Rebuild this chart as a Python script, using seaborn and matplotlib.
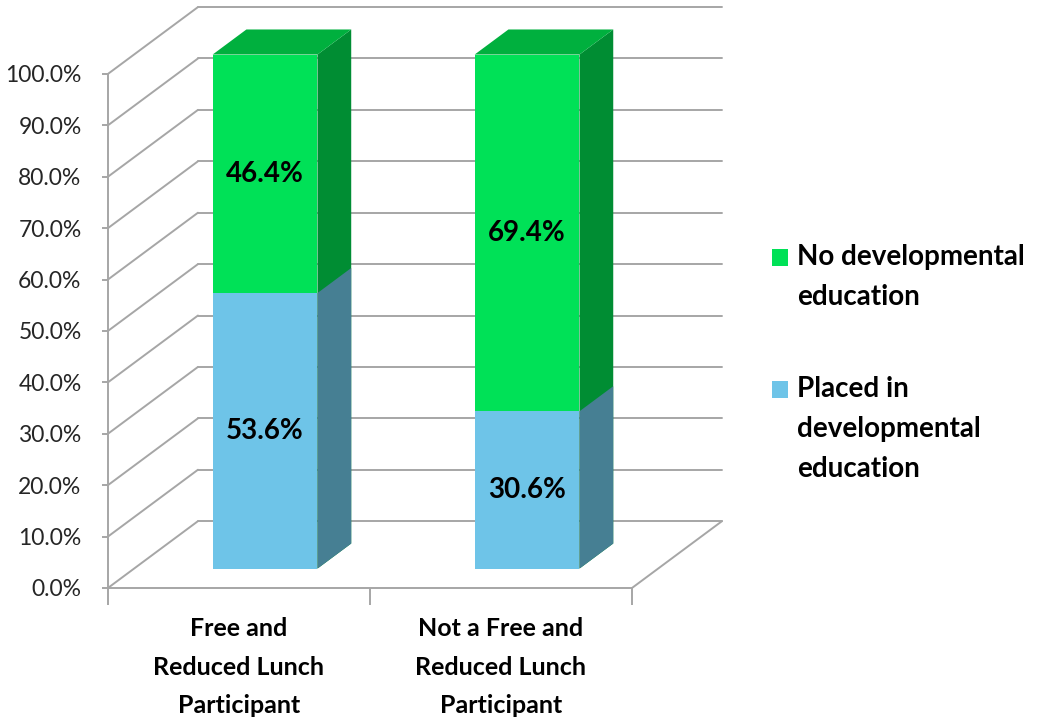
import numpy as np
import pandas as pd
import seaborn as sns
import matplotlib.pyplot as plt
from matplotlib.patches import Polygon, Patch, Rectangle
from matplotlib.legend_handler import HandlerPatch
from matplotlib.ticker import FuncFormatter

categories = ["Free and\nReduced Lunch\nParticipant",
              "Not a Free and\nReduced Lunch\nParticipant"]
placed = [53.6, 30.6]
no_dev = [46.4, 69.4]
series_names = ["No developmental\neducation",
                "Placed in\ndevelopmental\neducation"]
y_ticks = list(range(0, 101, 10))

green_front = "#00E157"
green_top = "#00B03E"
green_side = "#008D33"
blue_front = "#6EC4E8"
blue_side = "#467F93"
grid_col = "#A6A6A6"

# fake 3d: depth of the whole box in data units, and where the bars sit in it
DDX = 0.3435
DDY = 13.0
BAR_FRONT = 0.29
BAR_DEPTH = 0.375

LEG_SIZE = 20
LEG_SPACING = 1.65

sns.set_style("white")
plt.rcParams["font.family"] = ["Lato", "DejaVu Sans"]

df = pd.DataFrame({"category": categories,
                   "placed": placed,
                   "total": np.add(placed, no_dev)})

fig = plt.figure(figsize=(10.41, 7.21), dpi=100)
ax = fig.add_axes([0.1037, 0.1845, 0.5915, 0.8128])

sns.barplot(data=df, x="category", y="total", color=green_front, saturation=1,
            width=0.4, linewidth=0, errorbar=None, ax=ax)
n = len(ax.patches)
sns.barplot(data=df, x="category", y="placed", color=blue_front, saturation=1,
            width=0.4, linewidth=0, errorbar=None, ax=ax)
green_bars = ax.patches[:n]
blue_bars = ax.patches[n:]

for p in ax.patches:
    p.set_x(p.get_x() + BAR_FRONT * DDX)
    p.set_y(p.get_y() + BAR_FRONT * DDY)

dx, dy = BAR_DEPTH * DDX, BAR_DEPTH * DDY


def side_face(p, col, z):
    x = p.get_x() + p.get_width()
    y0 = p.get_y()
    y1 = y0 + p.get_height()
    ax.add_patch(Polygon([(x, y0), (x + dx, y0 + dy), (x + dx, y1 + dy), (x, y1)],
                         closed=True, fc=col, lw=0, zorder=z))


def top_face(p, col, z):
    x0 = p.get_x()
    x1 = x0 + p.get_width()
    y = p.get_y() + p.get_height()
    ax.add_patch(Polygon([(x0, y), (x0 + dx, y + dy), (x1 + dx, y + dy), (x1, y)],
                         closed=True, fc=col, lw=0, zorder=z))


for g, b, pv, nv in zip(green_bars, blue_bars, placed, no_dev):
    g.set_zorder(3)
    b.set_zorder(4)
    side_face(g, green_side, 3)
    top_face(g, green_top, 3)
    side_face(b, blue_side, 4)
    cx = g.get_x() + g.get_width() / 2
    base = g.get_y()
    ax.text(cx, base + pv / 2, f"{pv:.1f}%", ha="center", va="center",
            fontsize=20, fontweight="bold", color="black", zorder=6)
    ax.text(cx, base + pv + nv / 2, f"{nv:.1f}%", ha="center", va="center",
            fontsize=20, fontweight="bold", color="black", zorder=6)

# walls and floor
x_left, x_right = -0.5, len(categories) - 0.5
for v in y_ticks:
    ax.plot([x_left, x_left + DDX], [v, v + DDY], color=grid_col, lw=1.4,
            zorder=1, clip_on=False)
    ax.plot([x_left + DDX, x_right + DDX], [v + DDY, v + DDY], color=grid_col,
            lw=1.4, zorder=1, clip_on=False)
ax.plot([x_right, x_right + DDX], [0, DDY], color=grid_col, lw=1.4, zorder=1,
        clip_on=False)

ax.set_xlim(-0.5, 1.85)
ax.set_ylim(0, 114)
ax.set_xlabel("")
ax.set_ylabel("")

for s in ["top", "right"]:
    ax.spines[s].set_visible(False)
for s in ["left", "bottom"]:
    ax.spines[s].set_color(grid_col)
    ax.spines[s].set_linewidth(1.4)
ax.spines["left"].set_bounds(0, 100)
ax.spines["bottom"].set_bounds(x_left, x_right)

ax.set_yticks(y_ticks)
ax.yaxis.set_major_formatter(FuncFormatter(lambda v, pos: f"{v:.1f}%"))
ax.tick_params(axis="y", length=4, width=1.4, color=grid_col, pad=15,
               labelsize=16.5, labelcolor="#262626", left=True)

ax.set_xticks(range(len(categories)))
ax.set_xticklabels(categories, fontsize=18, fontweight="bold", linespacing=1.81,
                   color="black")
ax.set_xticks(np.arange(x_left, x_right + 0.1, 1.0), minor=True)
ax.tick_params(axis="x", which="major", length=0, pad=21)
ax.tick_params(axis="x", which="minor", length=12, width=1.4, color=grid_col,
               bottom=True)


class FirstLineHandler(HandlerPatch):
    # matplotlib centres the square on a wrapped label; move it to line one
    def create_artists(self, legend, orig_handle, xdescent, ydescent, width,
                       height, fontsize, trans):
        lines = orig_handle.get_label().count("\n")
        shift = 0.5 * lines * fontsize * LEG_SPACING * 0.875
        r = Rectangle((-xdescent, -ydescent + shift), width, height,
                      fc=orig_handle.get_facecolor(), lw=0, transform=trans)
        return [r]


handles = [Patch(fc=green_front, label=series_names[0]),
           Patch(fc=blue_front, label=series_names[1])]
leg = fig.legend(handles=handles, labels=series_names, loc="upper left",
                 bbox_to_anchor=(772 / 1041, 1 - 244 / 721), frameon=False,
                 prop={"weight": "bold", "size": LEG_SIZE}, handlelength=0.58,
                 handleheight=0.58, handletextpad=0.32, labelspacing=2.4,
                 borderpad=0, borderaxespad=0,
                 handler_map={Patch: FirstLineHandler()})
for t in leg.get_texts():
    t.set_linespacing(LEG_SPACING)
    t.set_color("black")

fig.savefig("out.png", dpi=100)
